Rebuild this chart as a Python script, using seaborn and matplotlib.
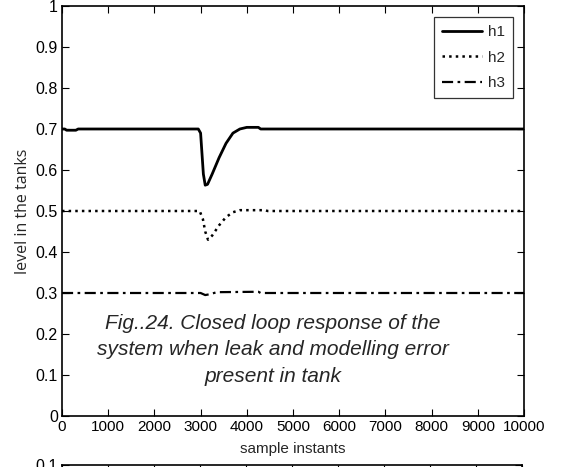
import matplotlib
matplotlib.use("Agg")
import matplotlib.pyplot as plt
import seaborn as sns
import pandas as pd

# Tank levels (sample instant, level) for the three tanks
h1_t = [0, 60, 100, 300, 350, 2950, 3000, 3030, 3060, 3100, 3150, 3250, 3400,
        3550, 3700, 3850, 4000, 4250, 4300, 10000]
h1_v = [0.700, 0.700, 0.697, 0.697, 0.700, 0.700, 0.690, 0.640, 0.590, 0.563,
        0.565, 0.590, 0.630, 0.665, 0.690, 0.700, 0.704, 0.704, 0.700, 0.700]

h2_t = [0, 2980, 3050, 3100, 3160, 3250, 3400, 3550, 3700, 3850, 4400, 4450, 10000]
h2_v = [0.500, 0.500, 0.480, 0.450, 0.430, 0.440, 0.465, 0.485, 0.497, 0.502,
        0.502, 0.500, 0.500]

h3_t = [0, 3000, 3100, 3200, 3350, 4250, 4300, 10000]
h3_v = [0.300, 0.300, 0.295, 0.297, 0.302, 0.303, 0.300, 0.300]

series_names = ["h1", "h2", "h3"]
x_ticks = [0, 1000, 2000, 3000, 4000, 5000, 6000, 7000, 8000, 9000, 10000]
y_ticks = [0, 0.1, 0.2, 0.3, 0.4, 0.5, 0.6, 0.7, 0.8, 0.9, 1]
y_ticklabels = ["0", "0.1", "0.2", "0.3", "0.4", "0.5", "0.6", "0.7", "0.8", "0.9", "1"]

sns.set_style("ticks")
plt.rcParams["font.family"] = ["Liberation Sans Narrow", "Liberation Sans", "DejaVu Sans"]
plt.rcParams["xtick.direction"] = "in"
plt.rcParams["ytick.direction"] = "in"

fig = plt.figure(figsize=(5.61, 4.67), dpi=100)
ax = fig.add_axes([62 / 561, 1 - 416 / 467, 462 / 561, 410 / 467])

styles = {"h1": ("-", 2.0), "h2": (":", 1.8), "h3": ((0, (5, 2, 1.2, 2)), 1.6)}
data = {"h1": (h1_t, h1_v), "h2": (h2_t, h2_v), "h3": (h3_t, h3_v)}
for name in series_names:
    t, v = data[name]
    df = pd.DataFrame({"t": t, "v": v})
    ls, lw = styles[name]
    sns.lineplot(data=df, x="t", y="v", ax=ax, color="black", linestyle=ls,
                 linewidth=lw, label=name)

ax.set_xlim(0, 10000)
ax.set_ylim(0, 1)
ax.set_xticks(x_ticks)
ax.set_xticklabels([str(t) for t in x_ticks], fontsize=11)
ax.set_yticks(y_ticks)
ax.set_yticklabels(y_ticklabels, fontsize=11.5)
ax.tick_params(top=True, right=True, length=5, width=0.8, colors="black", pad=3)
for s in ax.spines.values():
    s.set_color("black")
    s.set_linewidth(1.2)

ax.set_xlabel("sample instants", fontsize=11, labelpad=6)
ax.set_ylabel("level in the tanks", fontsize=11.5, family=["Open Sans", "DejaVu Sans"], labelpad=3)

leg = ax.legend(loc="upper right", fontsize=11, frameon=True, fancybox=False,
                edgecolor="black", handlelength=2.6, borderpad=0.55, labelspacing=0.75,
                handletextpad=0.4, borderaxespad=0.7)
leg.get_frame().set_linewidth(0.9)

ax.text(4567, 0.161,
        "Fig..24. Closed loop response of the\nsystem when leak and modelling error\npresent in tank",
        ha="center", va="center", fontsize=15, style="italic",
        family=["Liberation Sans", "DejaVu Sans"], linespacing=1.5)

# Next panel below, only its top edge falls inside the figure
ax2 = fig.add_axes([62 / 561, 2 / 467 - 0.3, 460 / 561, 0.3])
ax2.set_xlim(0, 10000)
ax2.set_ylim(0, 0.1)
ax2.set_xticks(x_ticks)
ax2.set_yticks([0.1])
ax2.set_yticklabels(["0.1"], fontsize=11.5)
ax2.tick_params(top=True, right=True, labelbottom=False, length=5, width=0.8,
                colors="black")
for s in ax2.spines.values():
    s.set_color("black")
    s.set_linewidth(1.2)

fig.savefig("out.png", dpi=100)
